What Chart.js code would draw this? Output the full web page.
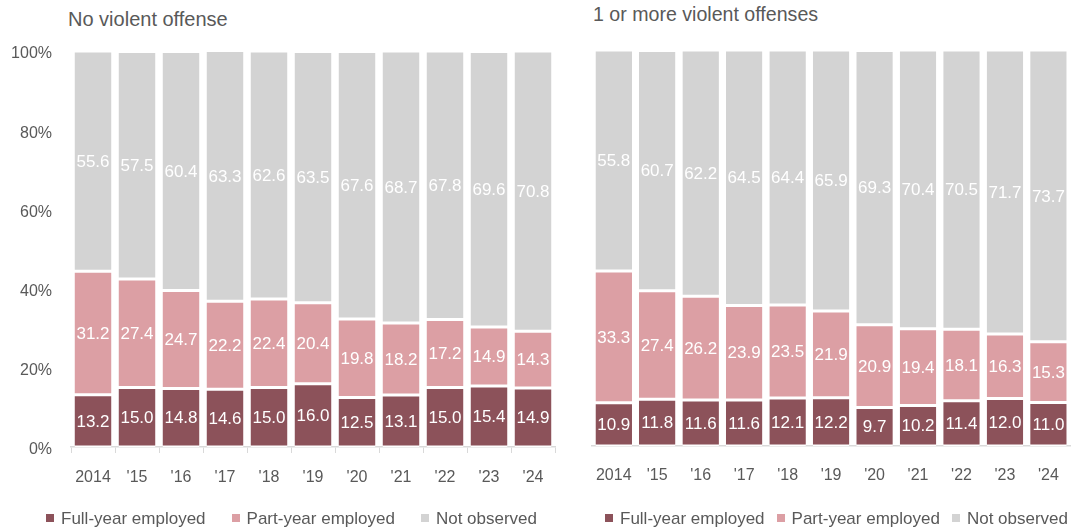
<!DOCTYPE html>
<html>
<head>
<meta charset="utf-8">
<script src="https://cdn.jsdelivr.net/npm/chart.js@4.4.1/dist/chart.umd.min.js"></script>
<style>
  body { margin: 0; background: #fff; font-family: "Liberation Sans", Arial, sans-serif; }
  #wrap { position: relative; width: 1079px; height: 531px; overflow: hidden; }
  canvas { position: absolute; top: 0; }
  .title { position: absolute; font-size: 20px; color: #595959; white-space: nowrap; line-height: 1; }
  .legend { position: absolute; top: 510px; display: flex; font-size: 17px; color: #595959; line-height: 18px; white-space: nowrap; }
  .legend span.sw { display: inline-block; width: 8px; height: 8px; margin-right: 7px; position: relative; top: -1px; vertical-align: middle; }
  .legend .item { display: flex; align-items: center; }
</style>
</head>
<body>
<div id="wrap">
  <div class="title" style="left:68px; top:9px;">No violent offense</div>
  <div class="title" style="left:593px; top:5px; font-size:19.6px;">1 or more violent offenses</div>
  <canvas id="leftChart" width="560" height="531" style="left:0"></canvas>
  <canvas id="rightChart" width="519" height="531" style="left:560px"></canvas>
  <div class="legend" id="leftLegend" style="left:46px;"></div>
  <div class="legend" id="rightLegend" style="left:605px;"></div>
</div>
<script>
const years = ["2014", "'15", "'16", "'17", "'18", "'19", "'20", "'21", "'22", "'23", "'24"];
const seriesNames = ["Full-year employed", "Part-year employed", "Not observed"];
const seriesColors = ["#8c525a", "#dc9fa4", "#d3d3d3"];

// No violent offense
const nvFullYear = [13.2, 15.0, 14.8, 14.6, 15.0, 16.0, 12.5, 13.1, 15.0, 15.4, 14.9];
const nvPartYear = [31.2, 27.4, 24.7, 22.2, 22.4, 20.4, 19.8, 18.2, 17.2, 14.9, 14.3];
const nvNotObserved = [55.6, 57.5, 60.4, 63.3, 62.6, 63.5, 67.6, 68.7, 67.8, 69.6, 70.8];

// 1 or more violent offenses
const vFullYear = [10.9, 11.8, 11.6, 11.6, 12.1, 12.2, 9.7, 10.2, 11.4, 12.0, 11.0];
const vPartYear = [33.3, 27.4, 26.2, 23.9, 23.5, 21.9, 20.9, 19.4, 18.1, 16.3, 15.3];
const vNotObserved = [55.8, 60.7, 62.2, 64.5, 64.4, 65.9, 69.3, 70.4, 70.5, 71.7, 73.7];

const yTicks = [0, 20, 40, 60, 80, 100];
const FONT = "'Liberation Sans', Arial, sans-serif";
const NARROW = "'Liberation Sans Narrow', 'Liberation Sans', Arial, sans-serif";

// writes the value in the middle of each segment
const segmentLabels = {
  id: "segmentLabels",
  afterDatasetsDraw(chart) {
    const ctx = chart.ctx;
    ctx.save();
    ctx.font = "17px " + NARROW;
    ctx.fillStyle = "#ffffff";
    ctx.textAlign = "center";
    ctx.textBaseline = "middle";
    chart.data.datasets.forEach((ds, i) => {
      chart.getDatasetMeta(i).data.forEach((bar, j) => {
        const { x, y, base } = bar.getProps(["x", "y", "base"], true);
        ctx.fillText(ds.data[j].toFixed(1), x, (y + base) / 2 + 1);
      });
    });
    ctx.restore();
  }
};

function makeDatasets(values) {
  return values.map((data, i) => ({
    label: seriesNames[i],
    data,
    backgroundColor: seriesColors[i],
    borderColor: "#ffffff",
    borderWidth: { top: 1.5, bottom: 1.5, left: 0, right: 0 },
    borderSkipped: false,
    barPercentage: 0.84,
    categoryPercentage: 1
  }));
}

function makeChart(id, values, opts) {
  return new Chart(document.getElementById(id), {
    type: "bar",
    data: { labels: years, datasets: makeDatasets(values) },
    plugins: [segmentLabels],
    options: {
      responsive: false,
      animation: false,
      layout: { padding: opts.padding },
      plugins: { legend: { display: false }, tooltip: { enabled: false } },
      scales: {
        x: {
          stacked: true,
          afterFit: s => { s.height = 40; },
          grid: {
            display: true,
            drawOnChartArea: false,
            drawTicks: opts.xTicks,
            tickLength: 6,
            color: "#d9d9d9",
            offset: true
          },
          border: { display: true, color: "#d9d9d9", width: 1.5 },
          ticks: {
            color: "#595959",
            font: { family: FONT, size: 16 },
            padding: opts.xPad,
            autoSkip: false,
            maxRotation: 0
          }
        },
        y: {
          stacked: true,
          display: opts.yAxis,
          min: 0,
          max: 100,
          afterBuildTicks: s => { s.ticks = yTicks.map(v => ({ value: v })); },
          afterFit: s => { if (opts.yAxis) s.width = 71; },
          grid: { display: false, drawTicks: false },
          border: { display: false },
          ticks: {
            color: "#595959",
            font: { family: FONT, size: 16 },
            padding: 19,
            labelOffset: 3,
            callback: v => v + "%"
          }
        }
      }
    }
  });
}

makeChart("leftChart", [nvFullYear, nvPartYear, nvNotObserved], {
  padding: { top: 51, right: 5, bottom: 44, left: 0 },
  xTicks: true, xPad: 15, yAxis: true
});

makeChart("rightChart", [vFullYear, vPartYear, vNotObserved], {
  padding: { top: 50, right: 3, bottom: 45, left: 32 },
  xTicks: false, xPad: 20, yAxis: false
});

// legends below each panel
function buildLegend(id, gap) {
  const el = document.getElementById(id);
  seriesNames.forEach((name, i) => {
    const item = document.createElement("div");
    item.className = "item";
    item.style.marginRight = gap + "px";
    item.innerHTML = `<span class="sw" style="background:${seriesColors[i]}"></span>${name}`;
    el.appendChild(item);
  });
}
buildLegend("leftLegend", 26);
buildLegend("rightLegend", 12);
</script>
</body>
</html>
